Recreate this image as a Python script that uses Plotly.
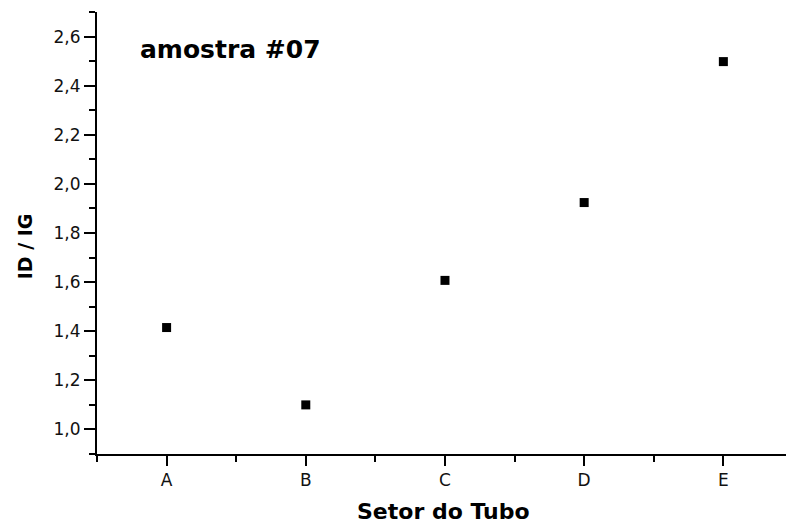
import plotly.graph_objects as go

categories = ["A", "B", "C", "D", "E"]
id_ig = [1.415, 1.10, 1.607, 1.924, 2.498]
sample_label = "amostra #07"
x_title = "Setor do Tubo"
y_title = "ID / IG"

x_pos = list(range(len(categories)))

fig = go.Figure()
fig.add_trace(go.Scatter(
    x=x_pos, y=id_ig, mode="markers",
    marker=dict(symbol="square", size=9, color="black"),
    showlegend=False,
))

bold = dict(family="DejaVu Sans", color="black", weight="bold")

fig.update_layout(
    width=786, height=524,
    margin=dict(l=97, r=0, t=12, b=70),
    paper_bgcolor="white", plot_bgcolor="white",
    separators=",.",
    font=dict(family="DejaVu Sans", color="#111"),
    xaxis=dict(
        range=[-0.5, 4.45], automargin=False,
        tickmode="array", tickvals=x_pos, ticktext=categories,
        ticks="outside", ticklen=10, tickwidth=2, tickcolor="black",
        showline=True, linecolor="black", linewidth=2,
        showgrid=False, zeroline=False,
        tickfont=dict(size=17, family="DejaVu Sans", color="#111"),
        minor=dict(tickmode="array", tickvals=[-0.5, 0.5, 1.5, 2.5, 3.5, 4.5],
                   ticks="outside", ticklen=6, tickwidth=2, tickcolor="black"),
    ),
    yaxis=dict(
        range=[0.9, 2.7], automargin=False,
        tick0=1.0, dtick=0.2, tickformat=".1f",
        ticks="outside", ticklen=11, tickwidth=2, tickcolor="black",
        showline=True, linecolor="black", linewidth=2,
        showgrid=False, zeroline=False,
        tickfont=dict(size=17, family="DejaVu Sans", color="#111"),
        minor=dict(tick0=0.9, dtick=0.1, ticks="outside", ticklen=6, tickwidth=2, tickcolor="black"),
    ),
    annotations=[
        dict(text=sample_label, xref="paper", yref="paper",
             x=0.0595, y=0.915, xanchor="left", yanchor="middle",
             showarrow=False, font=dict(size=25, **bold)),
        dict(text=x_title, xref="paper", yref="paper",
             x=0.5036, y=-0.131, xanchor="center", yanchor="middle",
             showarrow=False, font=dict(size=22, **bold)),
        dict(text=y_title, xref="paper", yref="paper",
             x=-0.1045, y=0.47, xanchor="center", yanchor="middle",
             textangle=-90, showarrow=False, font=dict(size=19, **bold)),
    ],
)

fig.write_html("out.html", config={"displayModeBar": False},
               post_script="document.body.style.margin='0';")
